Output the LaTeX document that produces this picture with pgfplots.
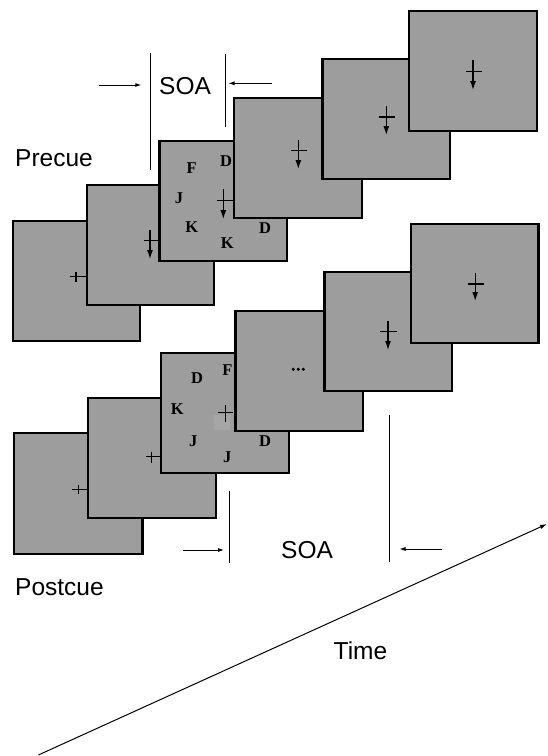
\documentclass[border=0pt]{standalone}
\usepackage{pgfplots}
\pgfplotsset{compat=1.18}
\usepackage{fontspec}
\setmainfont{Liberation Sans}
\newfontfamily\tnr{Liberation Serif}
\usetikzlibrary{arrows.meta}
\definecolor{sqgray}{RGB}{157,157,157}
\definecolor{lightpatch}{RGB}{166,166,166}
\tikzset{
  sq/.style={fill=sqgray, draw=black, line width=2.2pt, line join=miter},
  cr/.style={black, line width=1.2pt},
  ca/.style={black, line width=1.2pt, -{Latex[length=9pt,width=6pt]}},
  ar/.style={black, line width=0.9pt, -{Latex[length=6pt,width=4pt]}},
  vl/.style={black, line width=1pt},
  lt/.style={font=\tnr\bfseries\fontsize{16.5}{18}\selectfont, inner sep=0pt, anchor=center},
  tx/.style={font=\fontsize{24.5}{28}\selectfont, inner sep=0pt, anchor=base west},
}
\begin{document}
\begin{tikzpicture}
\begin{axis}[
  scale only axis, width=547pt, height=756pt,
  xmin=0, xmax=547, ymin=0, ymax=756, y dir=reverse,
  axis lines=none, ticks=none, clip=false,
]
\addplot[draw=none] coordinates {(0,0) (547,756)};
% ---------- Precue row ----------
\addplot[sq] coordinates {(12.6,220.7) (140.3,220.7) (140.3,341.3) (12.6,341.3)} -- cycle;
\addplot[cr] coordinates {(69.8,276.7) (85.5,276.7)};
\addplot[cr] coordinates {(76,271.7) (76,281.7)};
\addplot[sq] coordinates {(86.9,185) (213.9,185) (213.9,305) (86.9,305)} -- cycle;
\addplot[cr] coordinates {(143.8,240.7) (158.8,240.7)};
\addplot[ca] coordinates {(150,230) (150,259)};
\addplot[sq] coordinates {(159.5,141) (287.2,141) (287.2,260.7) (159.5,260.7)} -- cycle;
\addplot[cr] coordinates {(216.7,200.7) (232.7,200.7)};
\addplot[ca] coordinates {(223.3,189.3) (223.3,219)};
\node[lt] at (axis cs:191.7,168.3) {F};
\node[lt] at (axis cs:226,160.7) {D};
\node[lt] at (axis cs:179,197.7) {J};
\node[lt] at (axis cs:191.7,227.3) {K};
\node[lt] at (axis cs:265,228.3) {D};
\node[lt] at (axis cs:227.3,243.3) {K};
\addplot[sq] coordinates {(234.1,98.3) (361.8,98.3) (361.8,218.3) (234.1,218.3)} -- cycle;
\addplot[cr] coordinates {(291.3,150.7) (307,150.7)};
\addplot[ca] coordinates {(298.3,140) (298.3,169)};
\addplot[sq] coordinates {(322.4,59.3) (450.1,59.3) (450.1,179.3) (322.4,179.3)} -- cycle;
\addplot[cr] coordinates {(379.3,117) (395,117)};
\addplot[ca] coordinates {(386.3,106) (386.3,135)};
\addplot[sq] coordinates {(408.9,11) (536.6,11) (536.6,131.3) (408.9,131.3)} -- cycle;
\addplot[cr] coordinates {(466,71.5) (482.3,71.5)};
\addplot[ca] coordinates {(473,59.5) (473,90)};
% SOA precue
\addplot[vl] coordinates {(150,53.3) (150,170)};
\addplot[vl] coordinates {(225,54.3) (225,126.7)};
\addplot[ar] coordinates {(99.4,85) (141.3,85)};
\addplot[ar] coordinates {(272.2,83.3) (228.5,83.3)};
\node[tx] at (axis cs:159,94) {SOA};
\node[tx] at (axis cs:15,166.7) {Precue};
% ---------- Postcue row ----------
\addplot[sq] coordinates {(14,433.3) (142.4,433.3) (142.4,554) (14,554)} -- cycle;
\addplot[cr] coordinates {(71.5,489.3) (87.2,489.3)};
\addplot[cr] coordinates {(78.5,484.5) (78.5,494)};
\addplot[sq] coordinates {(87.9,397.7) (215.6,397.7) (215.6,517.7) (87.9,517.7)} -- cycle;
\addplot[cr] coordinates {(145.8,456.7) (160.5,456.7)};
\addplot[cr] coordinates {(151.8,451.7) (151.8,462.7)};
\addplot[sq] coordinates {(161.2,352.7) (288.9,352.7) (288.9,473.3) (161.2,473.3)} -- cycle;
\addplot[fill=lightpatch, draw=none] coordinates {(213.5,415) (229.5,415) (229.5,430) (213.5,430)} -- cycle;
\addplot[cr] coordinates {(218.3,412.7) (233.3,412.7)};
\addplot[cr] coordinates {(225.5,405) (225.5,421.5)};
\node[lt] at (axis cs:197.1,378.3) {D};
\node[lt] at (axis cs:227.5,370) {F};
\node[lt] at (axis cs:177.3,409.3) {K};
\node[lt] at (axis cs:193.3,441) {J};
\node[lt] at (axis cs:265,441) {D};
\node[lt] at (axis cs:227.3,456.7) {J};
\addplot[sq] coordinates {(235.5,311) (362.9,311) (362.9,430.7) (235.5,430.7)} -- cycle;
\addplot[only marks, mark=*, mark size=1.4pt, black] coordinates {(293.3,369.3) (298.3,369.3) (303.3,369.3)};
\addplot[sq] coordinates {(324.5,271.7) (451.8,271.7) (451.8,391) (324.5,391)} -- cycle;
\addplot[cr] coordinates {(380.3,331.7) (396.7,331.7)};
\addplot[ca] coordinates {(388,320.7) (388,350)};
\addplot[sq] coordinates {(411,224) (538.4,224) (538.4,343.3) (411,343.3)} -- cycle;
\addplot[cr] coordinates {(467.5,284) (484,284)};
\addplot[ca] coordinates {(475.2,273.3) (475.2,301)};
% SOA postcue
\addplot[vl] coordinates {(229.2,490.7) (229.2,563.3)};
\addplot[vl] coordinates {(389.7,415) (389.7,562.3)};
\addplot[ar] coordinates {(183.2,550) (224,550)};
\addplot[ar] coordinates {(442.1,549) (399.5,549)};
\node[tx] at (axis cs:281,558.3) {SOA};
\node[tx] at (axis cs:15,595.7) {Postcue};
\node[tx] at (axis cs:333.5,659.3) {Time};
% Time arrow
\addplot[black, line width=1pt, -{Latex[length=7pt,width=4.5pt]}] coordinates {(38.4,755) (547,524)};
\end{axis}
\end{tikzpicture}
\end{document}
